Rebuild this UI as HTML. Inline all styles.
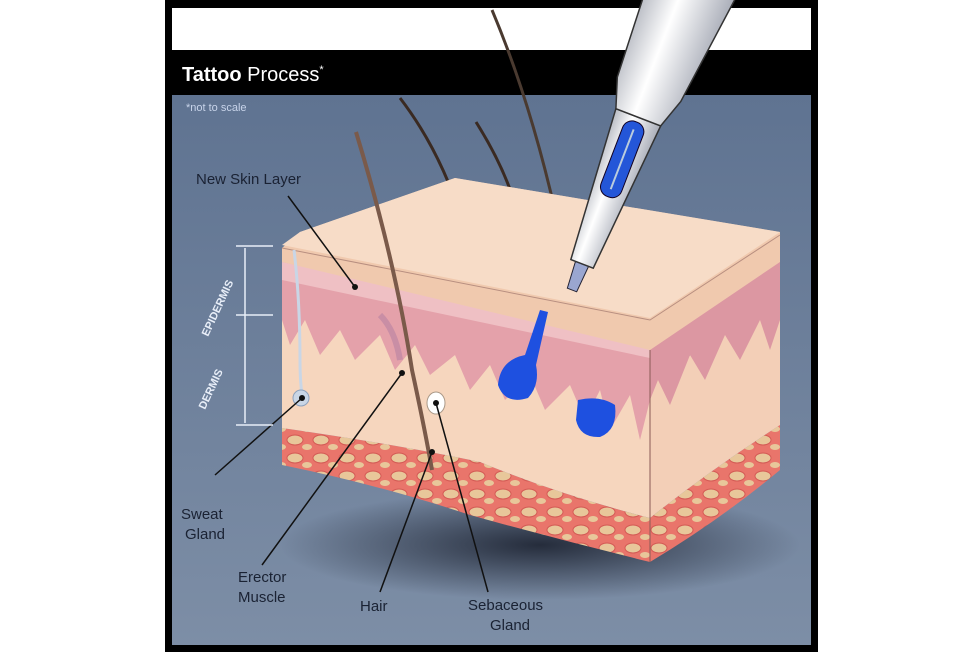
<!DOCTYPE html>
<html><head><meta charset="utf-8"><style>
html,body{margin:0;padding:0;background:#fff;width:980px;height:652px;overflow:hidden}
svg{display:block}
</style></head><body>
<svg width="980" height="652" viewBox="0 0 980 652" xmlns="http://www.w3.org/2000/svg" font-family="Liberation Sans, sans-serif">
<defs>
<linearGradient id="bg" x1="0" y1="0" x2="0" y2="1"><stop offset="0" stop-color="#5f7391"/><stop offset="1" stop-color="#7d8ea6"/></linearGradient>
<radialGradient id="sh" cx="0.5" cy="0.5" r="0.5"><stop offset="0" stop-color="#1c2230" stop-opacity="0.9"/><stop offset="1" stop-color="#1c2230" stop-opacity="0"/></radialGradient>
<linearGradient id="pen" x1="0" y1="0" x2="1" y2="0"><stop offset="0" stop-color="#b9bcc4"/><stop offset="0.4" stop-color="#ffffff"/><stop offset="1" stop-color="#a9adb8"/></linearGradient>
<pattern id="fat" width="26" height="18" patternUnits="userSpaceOnUse"><rect width="26" height="18" fill="#e9756b"/><ellipse cx="9" cy="8" rx="8" ry="5" fill="#e8c79a" stroke="#d45a55" stroke-width="1"/><ellipse cx="21" cy="15" rx="5" ry="3" fill="#e8c79a"/></pattern>
</defs>
<rect x="165" y="0" width="653" height="652" fill="#000"/>
<rect x="172" y="8" width="639" height="42" fill="#fff"/>
<rect x="172" y="95" width="639" height="550" fill="url(#bg)"/>
<text x="182" y="81" font-size="20" fill="#fff"><tspan font-weight="bold">Tattoo</tspan> Process<tspan font-size="11" dy="-8">*</tspan></text>
<text x="186" y="111" font-size="11" fill="#c8d4ea">*not to scale</text>
<!-- shadow -->
<ellipse cx="540" cy="545" rx="260" ry="55" fill="url(#sh)"/>
<!-- hairs above -->
<path d="M400 98 Q440 150 462 220" stroke="#3a2a22" stroke-width="3" fill="none"/>
<path d="M476 122 Q500 160 512 195" stroke="#3a2a22" stroke-width="3" fill="none"/>
<path d="M492 10 Q530 100 556 215" stroke="#4a3a30" stroke-width="3" fill="none"/>
<!-- fat layer front -->
<path d="M282 428 Q400 445 480 462 Q560 495 650 518 L650 562 Q560 540 470 515 Q380 485 282 465 Z" fill="url(#fat)"/>
<path d="M650 518 Q710 470 780 425 L780 470 Q720 520 650 562 Z" fill="url(#fat)"/>
<!-- dermis front -->
<path d="M282 300 L650 380 L650 518 Q560 495 480 462 Q400 445 282 428 Z" fill="#f6d6be"/>
<path d="M650 380 L780 300 L780 425 Q710 470 650 518 Z" fill="#f3cfb7"/>
<!-- epidermis front -->
<path d="M282 252 L650 330 L650 400 L640 440 L630 395 L610 430 L600 390 L585 420 L570 385 L545 410 L530 375 L505 400 L490 365 L470 390 L455 355 L430 375 L415 345 L395 370 L380 335 L355 360 L340 330 L320 355 L305 320 L290 345 L282 320 Z" fill="#e4a1aa"/>
<path d="M282 262 L650 342 L650 358 L282 280 Z" fill="#efc0c4"/>
<path d="M650 330 L780 250 L780 320 L770 350 L760 320 L740 360 L725 335 L705 380 L690 355 L670 405 L658 380 L650 400 Z" fill="#dc97a2"/>
<!-- top face -->
<path d="M282 248 L300 232 L455 178 L780 232 L780 262 L650 350 L282 262 Z" fill="#f0c9ae"/>
<path d="M282 245 L300 232 L455 178 L780 232 L650 318 Z" fill="#f7dcc7"/>
<path d="M282 248 L650 320 L780 235" stroke="#b88f80" stroke-width="1" fill="none"/>
<line x1="650" y1="350" x2="650" y2="562" stroke="#8a5a55" stroke-width="1"/>
<!-- ink -->
<path d="M540 310 L525 355 Q500 360 498 385 Q505 405 528 398 Q540 385 536 365 L548 312 Z" fill="#1e50e0"/>
<path d="M578 400 Q600 395 615 405 Q618 430 600 437 Q580 438 576 420 Z" fill="#1e50e0"/>
<!-- sweat gland -->
<path d="M294 250 Q300 300 300 360 Q300 380 302 395" stroke="#c9d6e6" stroke-width="3" fill="none"/>
<circle cx="301" cy="398" r="8" fill="#c9d6e6" stroke="#8ea2bd"/>
<!-- main hair -->
<path d="M356 132 Q395 260 412 370 Q425 430 432 470" stroke="#7a5a4a" stroke-width="4" fill="none"/>
<path d="M400 360 Q395 330 380 315" stroke="#c98ea5" stroke-width="6" fill="none"/>
<ellipse cx="436" cy="403" rx="9" ry="11" fill="#fff" stroke="#a98"/>
<!-- pen -->
<g transform="translate(572,290) rotate(21)">
<path d="M-5 0 L5 0 L7 -28 L-7 -28 Z" fill="#9aa6d0" stroke="#223" stroke-width="1"/>
<path d="M-12 -28 L12 -28 L24 -185 L-24 -185 Z" fill="url(#pen)" stroke="#333" stroke-width="1.5"/>
<rect x="-11" y="-180" width="22" height="80" rx="10" fill="#2456d8" stroke="#102"/>
<line x1="0" y1="-172" x2="0" y2="-108" stroke="#bcd" stroke-width="2"/>
<path d="M-24 -185 L24 -185 L34 -215 L48 -330 L-40 -330 L-34 -215 Z" fill="url(#pen)" stroke="#333" stroke-width="1.5"/>
</g>
<!-- leader lines -->
<g stroke="#111" stroke-width="1.5" fill="none">
<line x1="288" y1="196" x2="355" y2="287"/>
<line x1="215" y1="475" x2="302" y2="398"/>
<line x1="262" y1="565" x2="402" y2="373"/>
<line x1="380" y1="592" x2="432" y2="452"/>
<line x1="488" y1="592" x2="436" y2="403"/>
</g>
<g fill="#111"><circle cx="355" cy="287" r="3"/><circle cx="302" cy="398" r="3"/><circle cx="402" cy="373" r="3"/><circle cx="432" cy="452" r="3"/><circle cx="436" cy="403" r="3"/></g>
<!-- measure -->
<g stroke="#e8eef8" stroke-width="1.5">
<line x1="236" y1="246" x2="273" y2="246"/><line x1="236" y1="315" x2="273" y2="315"/><line x1="236" y1="425" x2="273" y2="425"/>
<line x1="245" y1="248" x2="245" y2="423"/>
</g>
<text transform="translate(208,337) rotate(-65)" font-size="11" font-weight="bold" fill="#e8eef8">EPIDERMIS</text>
<text transform="translate(205,410) rotate(-65)" font-size="11" font-weight="bold" fill="#e8eef8">DERMIS</text>
<g font-size="15" fill="#1a2233">
<text x="196" y="184">New Skin Layer</text>
<text x="181" y="519">Sweat</text><text x="185" y="539">Gland</text>
<text x="238" y="582">Erector</text><text x="238" y="602">Muscle</text>
<text x="360" y="611">Hair</text>
<text x="468" y="610">Sebaceous</text><text x="490" y="630">Gland</text>
</g>
</svg>
</body></html>
